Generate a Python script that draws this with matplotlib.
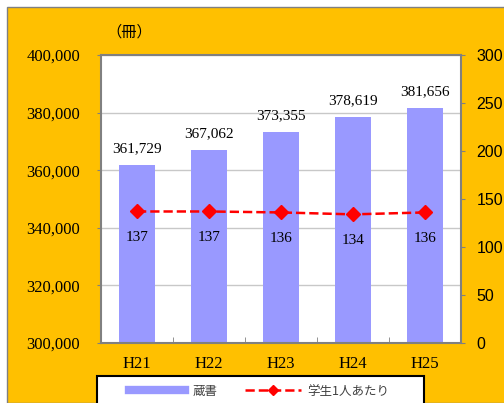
import matplotlib
matplotlib.use('Agg')
import matplotlib.pyplot as plt
from matplotlib.patches import Rectangle
from matplotlib.lines import Line2D
import numpy as np

# data
years = ['H21', 'H22', 'H23', 'H24', 'H25']
books = [361729, 367062, 373355, 378619, 381656]
per_student = [137, 137, 136, 134, 136]

serif = ['Liberation Serif', 'DejaVu Serif']
cjk = ['Noto Sans CJK JP', 'DejaVu Sans']

W, H = 504, 403
fig = plt.figure(figsize=(5.04, 4.03), dpi=100)
fig.patch.set_facecolor('white')
bg = Rectangle((7/W, 0), 1, 1 - 7/H, transform=fig.transFigure,
               facecolor='#FFC000', edgecolor='#808080', lw=1, zorder=-10)
fig.patches.append(bg)

ax = fig.add_axes([101/W, 1 - 343/H, 360/W, 288/H])
ax.set_facecolor('white')
x = np.arange(len(years))

ax.bar(x, books, width=0.5, color='#9999FF', zorder=2)
ax.set_ylim(300000, 400000)
ax.set_xlim(-0.5, 4.5)
ax.set_yticks(range(300000, 400001, 20000))
ax.set_yticklabels([f'{v:,}' for v in range(300000, 400001, 20000)],
                   family=serif, fontsize=12)
ax.yaxis.grid(True, color='#c8c8c8', lw=1, zorder=0)
ax.set_axisbelow(True)
ax.tick_params(axis='y', length=3, color='#808080', pad=12)

ax.set_xticks(x)
ax.set_xticklabels(years, family=serif, fontsize=12)
ax.set_xticks(x[:-1] + 0.5, minor=True)
ax.tick_params(axis='x', which='major', length=0, pad=9)
ax.tick_params(axis='x', which='minor', direction='in', length=4, color='#808080')

for s in ax.spines.values():
    s.set_color('#808080')
    s.set_linewidth(1.5)

for xi, v in zip(x, books):
    ax.annotate(f'{v:,}', (xi, v), xytext=(0, 7), textcoords='offset points',
                ha='center', va='bottom', family=serif, fontsize=11)

ax2 = ax.twinx()
ax2.plot(x, per_student, color='#FF0000', ls='--', lw=1.8, marker='D',
         markersize=7, zorder=3)
ax2.set_ylim(0, 300)
ax2.set_yticks(range(0, 301, 50))
ax2.set_yticklabels([str(v) for v in range(0, 301, 50)],
                    family=['Liberation Sans'], fontsize=11.5)
ax2.tick_params(axis='y', length=3, color='#808080', pad=8)
for s in ax2.spines.values():
    s.set_visible(False)

for xi, v in zip(x, per_student):
    ax2.annotate(str(v), (xi, v), xytext=(0, -19), textcoords='offset points',
                 ha='center', va='center', family=serif, fontsize=11)

fig.text(129/W, 1 - 32/H, '（冊）', family=cjk, fontsize=11,
         ha='center', va='center')

# legend box
box = Rectangle((97/W, -0.02), (424 - 97)/W, (H - 376)/H + 0.02,
                transform=fig.transFigure, facecolor='white',
                edgecolor='black', lw=1.5, zorder=5)
fig.patches.append(box)

handles = [Line2D([], [], color='#9999FF', lw=6),
           Line2D([], [], color='#FF0000', ls='--', lw=1.8, marker='D', markersize=5)]
leg = fig.legend(handles, ['蔵書', '学生1人あたり'], ncol=2,
                 loc='center left', bbox_to_anchor=(129/W, 1 - 391/H),
                 frameon=False, prop={'family': cjk, 'size': 9},
                 handlelength=4.5, columnspacing=2.2, borderpad=0,
                 borderaxespad=0, handletextpad=0.55)
leg.set_zorder(6)
for t in leg.get_texts():
    t.set_color('#404040')

fig.savefig('out.png', dpi=100, facecolor=fig.get_facecolor())
